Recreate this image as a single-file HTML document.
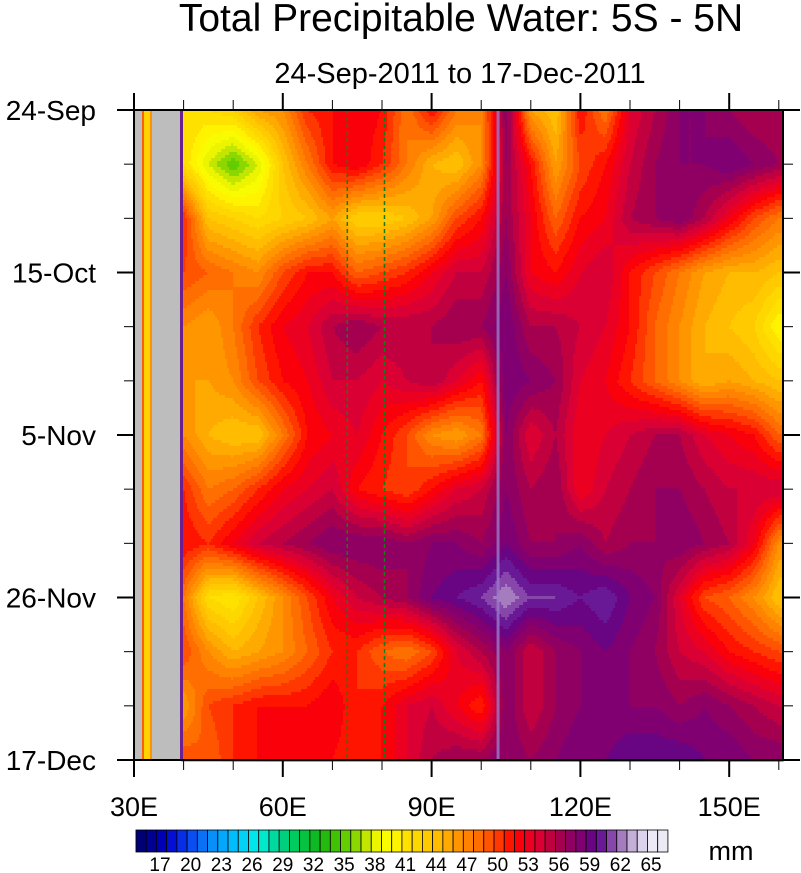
<!DOCTYPE html>
<html><head><meta charset="utf-8">
<style>
html,body{margin:0;padding:0;background:#fff;}
svg{display:block;font-family:"Liberation Sans",sans-serif;}
</style></head>
<body>
<svg id="chart" width="801" height="873" viewBox="0 0 801 873">
<text x="461" y="31" font-size="39" text-anchor="middle">Total Precipitable Water: 5S - 5N</text>
<text x="460" y="83" font-size="29" text-anchor="middle">24-Sep-2011 to 17-Dec-2011</text>
<g id="field"></g>
<g id="overlay"></g>
<g id="axes"></g>
<g id="cbar"></g>
<text x="731" y="860" font-size="27" text-anchor="middle">mm</text>
</svg>
<script>
// ---- data ----
const lons = [40,45,50,55,60,65,70,75,80,85,90,95,100,105,110,115,120,125,130,135,140,145,150,155,160];
const days = [0,7,14,21,28,35,42,49,56,63,70,77,84];
const pw = [
[42,42,43,46,47,51,52,53,52,48,52,48,47,58,46,44,52,48,54,56,58,58,57,56,56],
[42,38,35,38,44,48,52,53,51,48,45,44,47,57,52,46,50,52,55,57,58,58,59,58,57],
[51,44,43,42,43,44,46,43,43,44,46,50,52,57,53,49,52,53,56,57,58,56,53,50,48],
[50,49,48,47,50,52,52,49,50,51,53,55,55,58,53,52,54,55,52,50,48,46,45,45,44],
[47,46,48,51,53,54,56,57,56,56,56,57,57,59,56,56,55,54,52,49,47,45,44,43,40],
[46,46,47,50,52,53,55,55,54,55,56,54,52,59,58,57,54,53,51,49,47,45,46,45,44],
[47,45,44,44,48,52,53,54,52,50,47,46,48,58,54,56,53,54,55,56,56,54,53,52,49],
[51,48,49,51,53,54,55,52,51,50,52,54,55,58,56,57,53,55,56,57,57,56,55,55,55],
[52,51,53,55,56,57,58,58,58,57,58,58,57,59,57,57,58,56,57,57,58,57,56,53,47],
[48,42,41,44,47,50,53,55,56,57,59,60,61,63,61,61,60,61,59,58,54,50,49,47,44],
[50,47,45,46,47,49,51,51,49,48,50,54,56,58,55,57,58,59,58,57,55,54,52,51,50],
[46,50,51,52,52,52,53,51,52,54,55,53,51,58,55,57,58,58,58,58,57,58,57,56,55],
[50,49,51,52,53,53,52,51,52,54,56,57,57,58,57,58,59,59,60,60,60,59,59,58,58]
];
const cbLabels = [17,20,23,26,29,32,35,38,41,44,47,50,53,56,59,62,65];
const xTicks = [30,60,90,120,150];
const xTickLabels = ["30E","60E","90E","120E","150E"];
const yTicks = [0,21,42,63,84];
const yTickLabels = ["24-Sep","15-Oct","5-Nov","26-Nov","17-Dec"];

// ---- scales ----
const X0=134,X1=783,Y0=110,Y1=760;
const xs = lon => 134 + (lon-30)*4.96;
const ys = d => Y0 + d*(Y1-Y0)/84;
const NS="http://www.w3.org/2000/svg";
function mk(tag, attrs, parent){const e=document.createElementNS(NS,tag);for(const k in attrs)e.setAttribute(k,attrs[k]);parent.appendChild(e);return e;}

const keys=[[14,"#000050"],[16,"#000080"],[18,"#0000c8"],[20,"#0a3cf0"],[22,"#0a82f5"],[24,"#00b4ff"],[26,"#00dcf5"],[27,"#00f0e0"],[29,"#00d28c"],[31,"#00c850"],[33,"#14b414"],[35,"#50c800"],[37,"#a0dc00"],[38,"#e6f000"],[40,"#ffff00"],[41,"#ffe600"],[43,"#ffd200"],[45,"#ffb400"],[47,"#ff8c00"],[49,"#ff6400"],[51,"#ff2800"],[52,"#ff0000"],[54,"#e6002d"],[56,"#b40046"],[57,"#96005a"],[59,"#780078"],[60,"#5a0a8c"],[61,"#7828a0"],[62,"#9664b4"],[63,"#b496c8"],[64,"#d2c8e6"],[66,"#f5f5fa"]];
function hx(h){return [1,3,5].map(i=>parseInt(h.substr(i,2),16));}
function colorFor(v){
  const L=Math.max(14,Math.min(65.5,Math.floor(v)+0.5));
  for(let i=0;i<keys.length-1;i++){const a=keys[i],b=keys[i+1];
    if(L>=a[0]&&L<=b[0]){const t=(L-a[0])/(b[0]-a[0]);const ca=hx(a[1]),cb=hx(b[1]);
      return "rgb("+ca.map((c,j)=>Math.round(c+(cb[j]-c)*t)).join(",")+")";}}
  return keys[keys.length-1][1];
}
function interp(lon,d){
  let i=0;while(i<lons.length-2&&lon>lons[i+1])i++;
  let j=0;while(j<days.length-2&&d>days[j+1])j++;
  const tx=Math.max(0,Math.min(1,(lon-lons[i])/(lons[i+1]-lons[i])));
  const ty=Math.max(0,Math.min(1,(d-days[j])/(days[j+1]-days[j])));
  const a=pw[j][i],b=pw[j][i+1],c=pw[j+1][i],e=pw[j+1][i+1];
  return (a*(1-tx)+b*tx)*(1-ty)+(c*(1-tx)+e*tx)*ty;
}
// ---- field ----
const field=document.getElementById('field');
const xStart=xs(39.5), dx=2, dy=3;
function flush(x0,x1,y,col){
  const r=mk('rect',{x:x0,y:y,width:x1-x0+0.5,height:dy+0.5,fill:col},field);
  
  
}
for(let y=Y0;y<Y1;y+=dy){
  const d=(y+dy/2-Y0)*84/(Y1-Y0);
  let runStart=xStart, runCol=null, x;
  for(x=xStart;x<X1;x+=dx){
    const lon=30+(x+dx/2-134)/4.96;
    const col=colorFor(interp(lon,d));
    if(col!==runCol){
      if(runCol) flush(runStart,x,y,runCol);
      runStart=x;runCol=col;
    }
  }
  if(runCol) flush(runStart,X1,y,runCol);
}
// ---- overlays ----
const ov=document.getElementById('overlay');
[[134,142,"#bdbdbd"],[142,144,"#ff6000"],[144,150,"#ffd200"],[150,152,"#ff9000"],[152,180,"#bdbdbd"],[180,183,"#6a2090"]].forEach(s=>{
  const r=mk('rect',{x:s[0],y:Y0,width:s[1]-s[0],height:Y1-Y0,fill:s[2]},ov);
  
  
});
let l=mk('rect',{x:xs(103.4)-1.5,y:Y0,width:3,height:Y1-Y0,fill:"#9a7cc8",opacity:0.8},ov);


[73,80.5].forEach(lon=>{
  const ln=mk('line',{x1:xs(lon),x2:xs(lon),y1:Y0,y2:Y1,stroke:"#1a7a1a","stroke-width":1.5,"stroke-dasharray":"4,3"},ov);
  
  
});
// ---- axes ----
const ax=document.getElementById('axes');
const fr=mk('rect',{x:X0,y:Y0,width:X1-X0,height:Y1-Y0,fill:"none",stroke:"#000","stroke-width":2},ax);


for(let lon=30;lon<=160;lon+=10){
  const maj=xTicks.includes(lon), len=maj?17:10, x=xs(lon);
  mk('line',{x1:x,x2:x,y1:Y1,y2:Y1+len,stroke:"#000","stroke-width":maj?2:1},ax);
  mk('line',{x1:x,x2:x,y1:Y0,y2:Y0-len,stroke:"#000","stroke-width":maj?2:1},ax);
}
xTicks.forEach((lon,i)=>{
  const t=mk('text',{x:xs(lon),y:816,"font-size":27,"text-anchor":"middle"},ax);
  t.textContent=xTickLabels[i];
  
  
});
for(let d=0;d<=84;d+=7){
  const maj=yTicks.includes(d), len=maj?17:10, y=ys(d);
  mk('line',{x1:X0,x2:X0-len,y1:y,y2:y,stroke:"#000","stroke-width":maj?2:1},ax);
  mk('line',{x1:X1,x2:X1+len,y1:y,y2:y,stroke:"#000","stroke-width":maj?2:1},ax);
}
yTicks.forEach((d,i)=>{
  const t=mk('text',{x:96,y:ys(d)+10,"font-size":28,"text-anchor":"end"},ax);
  t.textContent=yTickLabels[i];
  
  
});
// ---- colorbar ----
const cb=document.getElementById('cbar');
const cbx = v => 160 + (v-17)*10.23;
for(let v=14.65; v<66; v+=1){
  const r=mk('rect',{x:cbx(v),y:830,width:10.23,height:22,fill:colorFor(v+0.5),stroke:"#000","stroke-width":0.8},cb);
  
  
}
cbLabels.forEach(v=>{
  const t=mk('text',{x:cbx(v),y:871,"font-size":19,"text-anchor":"middle"},cb);
  t.textContent=v;
  
  
});
</script>
</body></html>
